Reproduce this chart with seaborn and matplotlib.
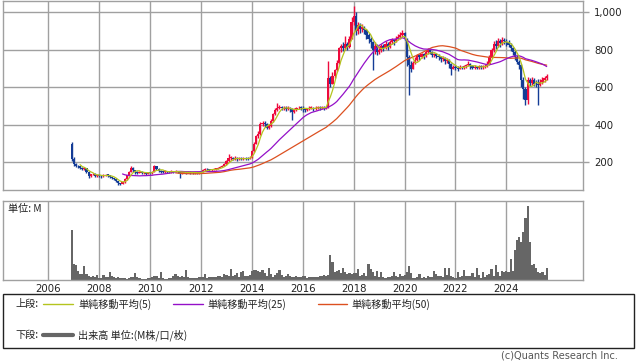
import numpy as np
import pandas as pd
import seaborn as sns
import matplotlib.pyplot as plt
from matplotlib.patches import Rectangle
from matplotlib.lines import Line2D

# monthly candles, Dec 2006 .. Aug 2025 (open = previous close)
first_open = 300
close = [215,
         190, 182, 178, 170, 165, 168, 150, 128, 135, 140, 128, 130,   # 2007
         128, 125, 130, 134, 132, 120, 115, 110, 100, 88, 84, 95,      # 2008
         112, 130, 150, 172, 158, 148, 145, 150, 142, 146, 140, 145,   # 2009
         142, 150, 178, 165, 155, 150, 148, 152, 150, 148, 152, 150,   # 2010
         152, 150, 142, 145, 148, 146, 150, 144, 142, 145, 143, 146,   # 2011
         150, 158, 165, 162, 158, 160, 163, 166, 170, 175, 180, 190,   # 2012
         205, 222, 225, 218, 222, 215, 220, 218, 222, 220, 218, 225,   # 2013
         260, 300, 340, 350, 405, 410, 405, 385, 395, 420, 455, 480,   # 2014
         490, 495, 488, 492, 485, 490, 482, 470, 478, 488, 492, 490,   # 2015
         488, 480, 485, 490, 492, 485, 490, 495, 490, 492, 488, 495,   # 2016
         650, 620, 660, 690, 730, 810, 820, 810, 830, 815, 860, 950,   # 2017
         980, 900, 930, 910, 920, 905, 880, 860, 840, 800, 820, 790,   # 2018
         800, 820, 810, 830, 815, 840, 850, 845, 860, 870, 880, 890,   # 2019
         860, 760, 720, 700, 730, 745, 770, 760, 775, 765, 790, 800,   # 2020
         790, 770, 775, 765, 760, 750, 755, 740, 745, 725, 700, 710,   # 2021
         705, 700, 710, 705, 712, 718, 725, 715, 705, 710, 705, 712,   # 2022
         708, 712, 715, 725, 760, 800, 830, 820, 845, 835, 850, 845,   # 2023
         840, 825, 810, 790, 760, 735, 720, 640, 590, 530, 640, 625,   # 2024
         640, 620, 615, 610, 630, 640, 650, 660]                       # 2025
high = [310,
        230, 195, 188, 182, 175, 172, 170, 152, 140, 145, 142, 135,
        135, 132, 136, 140, 138, 134, 122, 118, 112, 102, 92, 100,
        118, 134, 155, 178, 176, 160, 152, 156, 152, 150, 148, 150,
        150, 156, 186, 182, 168, 160, 155, 158, 156, 154, 158, 156,
        158, 156, 152, 150, 152, 152, 155, 152, 148, 150, 148, 150,
        154, 162, 170, 168, 165, 164, 168, 170, 174, 180, 186, 196,
        212, 244, 235, 230, 232, 228, 228, 226, 230, 228, 226, 232,
        268, 310, 345, 365, 415, 420, 418, 410, 405, 430, 465, 490,
        515, 505, 500, 502, 498, 500, 495, 490, 488, 495, 500, 498,
        498, 492, 492, 498, 500, 496, 498, 502, 500, 500, 498, 502,
        740, 660, 680, 700, 745, 815, 830, 840, 873, 840, 875, 975,
        1035, 1000, 950, 945, 935, 925, 910, 890, 870, 845, 840, 830,
        820, 830, 830, 845, 840, 850, 865, 860, 875, 885, 895, 905,
        895, 865, 770, 740, 740, 760, 780, 780, 785, 785, 800, 810,
        805, 795, 785, 780, 775, 765, 765, 760, 755, 750, 730, 720,
        718, 712, 718, 715, 720, 725, 738, 728, 720, 718, 715, 720,
        720, 720, 725, 740, 770, 810, 845, 850, 862, 855, 870, 865,
        855, 850, 835, 815, 800, 770, 745, 725, 655, 600, 655, 650,
        655, 650, 640, 645, 645, 655, 662, 670]
low = [205,
       180, 175, 168, 162, 158, 160, 145, 115, 122, 130, 124, 122,
       122, 118, 122, 126, 124, 116, 110, 104, 95, 80, 78, 82,
       92, 108, 128, 148, 150, 140, 138, 142, 136, 138, 134, 138,
       136, 140, 148, 158, 148, 144, 142, 145, 144, 142, 145, 145,
       146, 145, 115, 138, 142, 140, 144, 136, 136, 138, 137, 140,
       144, 148, 155, 156, 152, 154, 158, 160, 164, 168, 174, 178,
       186, 200, 212, 210, 212, 206, 212, 210, 214, 212, 210, 215,
       222, 255, 295, 330, 345, 395, 390, 378, 380, 390, 415, 450,
       475, 482, 478, 480, 475, 478, 470, 425, 462, 472, 482, 480,
       470, 468, 474, 480, 482, 475, 480, 485, 480, 482, 478, 482,
       488, 600, 615, 650, 685, 725, 790, 795, 800, 800, 810, 855,
       930, 880, 885, 890, 895, 885, 860, 835, 810, 690, 780, 770,
       775, 790, 795, 805, 800, 810, 830, 825, 840, 850, 860, 870,
       850, 715, 560, 680, 695, 725, 740, 745, 755, 750, 760, 780,
       775, 760, 760, 755, 745, 735, 740, 725, 730, 705, 665, 695,
       690, 688, 695, 695, 700, 705, 712, 700, 695, 698, 695, 700,
       695, 700, 705, 710, 720, 755, 790, 805, 815, 815, 825, 830,
       820, 815, 795, 770, 745, 725, 700, 600, 540, 505, 510, 605,
       610, 605, 600, 505, 605, 620, 630, 640]
# monthly volume, M
volume = [5.0,
          1.57, 1.5, 0.9, 0.57, 0.57, 1.43, 0.57, 0.43, 0.33, 0.43, 0.33, 0.5,
          0.23, 0.17, 0.5, 0.33, 0.27, 0.77, 0.43, 0.27, 0.17, 0.3, 0.23, 0.17,
          0.17, 0.1, 0.17, 0.27, 0.3, 0.67, 0.33, 0.17, 0.1, 0.1, 0.13, 0.17,
          0.17, 0.27, 0.4, 0.4, 0.2, 0.8, 0.17, 0.1, 0.13, 0.17, 0.23, 0.4,
          0.63, 0.4, 0.33, 0.4, 0.3, 1.0, 0.33, 0.23, 0.17, 0.17, 0.23, 0.27,
          0.27, 0.3, 0.57, 0.23, 0.27, 0.27, 0.33, 0.3, 0.4, 0.43, 0.33, 0.57,
          0.5, 0.43, 1.1, 0.43, 0.5, 0.67, 0.33, 0.77, 0.9, 0.43, 0.43, 0.5,
          0.9, 1.0, 1.0, 0.9, 0.77, 1.0, 0.67, 0.43, 1.17, 0.57, 0.33, 0.5,
          0.67, 0.97, 0.5, 0.33, 0.43, 0.57, 0.43, 0.33, 0.33, 0.4, 0.3, 0.33,
          0.4, 0.43, 0.23, 0.3, 0.3, 0.3, 0.33, 0.33, 0.43, 0.4, 0.5, 0.4,
          0.5, 2.5, 1.77, 0.77, 0.9, 1.0, 0.67, 1.23, 0.77, 0.57, 0.67, 0.57,
          0.67, 0.67, 1.07, 0.43, 0.5, 0.67, 0.43, 1.57, 1.1, 0.77, 0.43, 0.9,
          0.3, 0.77, 0.33, 0.23, 0.33, 0.3, 0.43, 0.77, 0.4, 0.33, 0.63, 0.43,
          0.5, 0.83, 1.4, 0.67, 0.23, 0.17, 0.27, 0.57, 0.17, 0.3, 0.23, 0.43,
          0.3, 0.3, 0.9, 0.57, 0.37, 0.43, 0.3, 1.17, 0.5, 1.17, 0.43, 0.33,
          0.23, 0.77, 0.3, 0.43, 1.0, 0.37, 0.43, 0.43, 0.67, 0.33, 1.23, 0.5,
          0.17, 0.77, 0.33, 0.5, 0.57, 1.1, 0.43, 1.5, 0.77, 0.43, 0.9, 0.77,
          0.9, 0.77, 2.07, 0.9, 2.93, 4.0, 4.3, 3.8, 4.8, 6.2, 7.3, 3.8,
          1.5, 1.57, 1.17, 0.77, 0.67, 0.77, 0.5, 1.17]

year_ticks = [2006, 2008, 2010, 2012, 2014, 2016, 2018, 2020, 2022, 2024]
price_ticks = [200, 400, 600, 800, 1000]

months = pd.date_range('2006-12-01', periods=len(close), freq='MS')
df = pd.DataFrame({'close': close, 'high': high, 'low': low, 'volume': volume})
df['t'] = months.year + (months.month - 1) / 12
df['open'] = df['close'].shift(1).fillna(first_open)
df['ma5'] = df['close'].rolling(5).mean()
df['ma25'] = df['close'].rolling(25).mean()
df['ma50'] = df['close'].rolling(50).mean()

UP, DOWN = '#ee0a3c', '#143c96'
C5, C25, C50 = '#b4c41e', '#9410c8', '#dc5020'
GRID = '#a0a0a0'
JP = ['Noto Sans CJK JP', 'DejaVu Sans']

sns.set_theme(style='white')
plt.rcParams['font.family'] = ['DejaVu Sans', 'Noto Sans CJK JP']

W, H = 638, 362
fig = plt.figure(figsize=(W / 100, H / 100), dpi=100)
ax = fig.add_axes([3 / W, 1 - 190 / H, 580 / W, 189.5 / H])
ax2 = fig.add_axes([3 / W, 1 - 280 / H, 580 / W, 79 / H])

xlim = (2004.22, 2027.01)

# candles
up = df['close'] >= df['open']
cols = np.where(up, UP, DOWN)
ax.vlines(df['t'], df['low'], df['high'], colors=cols, lw=1, zorder=2)
body = (df['close'] - df['open']).abs().clip(lower=4)
ax.bar(df['t'], body, bottom=np.minimum(df['open'], df['close']), width=0.085,
       color=cols, linewidth=0, zorder=2)

sns.lineplot(data=df, x='t', y='ma50', color=C50, lw=0.9, ax=ax, zorder=3)
sns.lineplot(data=df, x='t', y='ma25', color=C25, lw=0.9, ax=ax, zorder=3)
sns.lineplot(data=df, x='t', y='ma5', color=C5, lw=0.9, ax=ax, zorder=4)

ax.set_xlim(xlim)
ax.set_ylim(52, 1063)
ax.set_xticks(year_ticks)
ax.set_yticks(price_ticks)
ax.set_yticklabels([f'{v:,}' for v in price_ticks])
ax.yaxis.tick_right()
ax.tick_params(axis='y', length=4, width=1, color=GRID, labelsize=7.3, pad=4, labelcolor='#222222')
ax.tick_params(axis='x', length=0, labelbottom=False)
ax.grid(True, color=GRID, lw=1)
ax.set_axisbelow(True)
ax.set_xlabel('')
ax.set_ylabel('')

# volume
ax2.bar(df['t'], df['volume'], width=1 / 12, color='#666666', linewidth=0, zorder=2)
ax2.set_xlim(xlim)
ax2.set_ylim(0, 7.84)
ax2.set_xticks(year_ticks)
ax2.set_xticklabels([str(y) for y in year_ticks])
ax2.set_yticks([])
ax2.tick_params(axis='x', length=0, labelsize=7.3, pad=3, labelcolor='#222222')
ax2.grid(True, axis='x', color=GRID, lw=1)
ax2.set_axisbelow(True)

for a in (ax, ax2):
    for s in a.spines.values():
        s.set_color(GRID)
        s.set_linewidth(1)

# overlay in pixel coordinates for legend block and notes
ov = fig.add_axes([0, 0, 1, 1], zorder=10)
ov.set_xlim(0, W)
ov.set_ylim(H, 0)
ov.axis('off')
ov.patch.set_alpha(0)

ov.text(8, 209, '単位: M', fontsize=7.3, family=JP, va='center', color='#222222')

ov.add_patch(Rectangle((3, 294), 631, 54, fill=False, edgecolor='#222222', lw=1))
y1, y2 = 304, 335
ov.text(15, y1, '上段:', fontsize=7.3, family=JP, va='center', color='#222222')
ov.add_line(Line2D([43, 73], [y1, y1], color=C5, lw=1))
ov.text(78, y1, '単純移動平均(5)', fontsize=7.3, family=JP, va='center', color='#222222')
ov.add_line(Line2D([173, 203], [y1, y1], color=C25, lw=1))
ov.text(207, y1, '単純移動平均(25)', fontsize=7.3, family=JP, va='center', color='#222222')
ov.add_line(Line2D([318, 347], [y1, y1], color=C50, lw=1))
ov.text(351, y1, '単純移動平均(50)', fontsize=7.3, family=JP, va='center', color='#222222')

ov.text(15, y2, '下段:', fontsize=7.3, family=JP, va='center', color='#222222')
ov.add_line(Line2D([43, 73], [y2, y2], color='#666666', lw=3))
ov.text(78, y2, '出来高 単位:(M株/口/枚)', fontsize=7.3, family=JP, va='center', color='#222222')

ov.text(618, 355, '(c)Quants Research Inc.', fontsize=7, ha='right', va='center', color='#555555')

fig.savefig('out.png', dpi=100)
